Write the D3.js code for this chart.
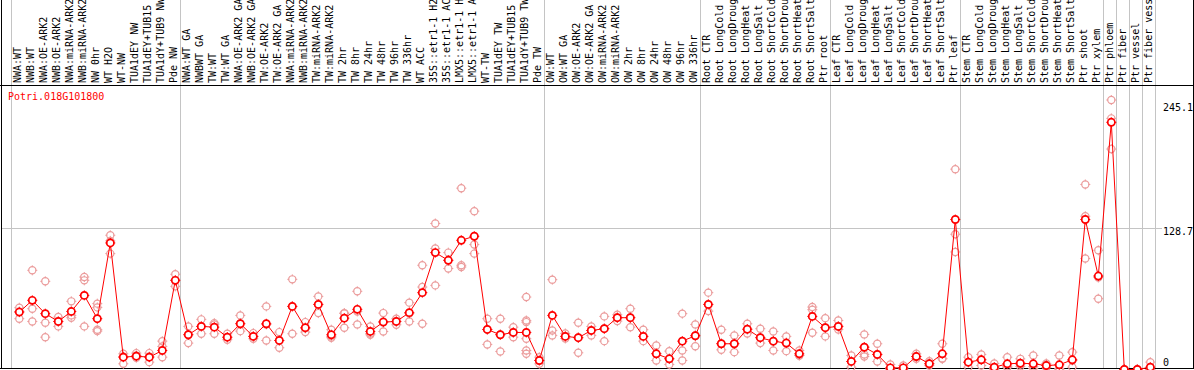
<!DOCTYPE html>
<html>
<head>
<meta charset="utf-8">
<script src="https://cdn.jsdelivr.net/npm/d3@7"></script>
<style>
  html, body { margin: 0; padding: 0; background: #fff; }
  svg { display: block; }
  text { font-family: "DejaVu Sans Mono", "Liberation Mono", monospace; font-size: 10px; }
</style>
</head>
<body>
<svg id="chart" width="1194" height="370"></svg>
<script>
const title = "Potri.018G101800";

const categories = [
  "NWA:WT","NWB:WT","NWA:OE-ARK2","NWB:OE-ARK2","NWA:miRNA-ARK2","NWB:miRNA-ARK2","NW 0hr","WT H2O","WT-NW","TUA1dEY NW","TUA1dEY+TUB15","TUA1dY+TUB9 NW","Pde NW",
  "NWA:WT GA","NWBWT GA","TW:WT","TW:WT GA","NWA:OE-ARK2 GA","NWB:OE-ARK2 GA","TW:OE-ARK2","TW:OE-ARK2 GA","NWA:miRNA-ARK2","NWB:miRNA-ARK2","TW:miRNA-ARK2","TW:miRNA-ARK2","TW 2hr","TW 8hr","TW 24hr","TW 48hr","TW 96hr","TW 336hr","WT ACC","35S::etr1-1 H2","35S::etr1-1 AC","LMX5::etr1-1 H","LMX5::etr1-1 A","WT-TW","TUA1dEY TW","TUA1dEY+TUB15","TUA1dY+TUB9 TW","Pde TW",
  "OW:WT","OW:WT GA","OW:OE-ARK2","OW:OE-ARK2 GA","OW:miRNA-ARK2","OW:miRNA-ARK2","OW 2hr","OW 8hr","OW 24hr","OW 48hr","OW 96hr","OW 336hr",
  "Root CTR","Root LongCold","Root LongDroug","Root LongHeat","Root LongSalt","Root ShortCold","Root ShortDrou","Root ShortHeat","Root ShortSalt","Ptr root",
  "Leaf CTR","Leaf LongCold","Leaf LongDroug","Leaf LongHeat","Leaf LongSalt","Leaf ShortCold","Leaf ShortDrou","Leaf ShortHeat","Leaf ShortSalt","Ptr leaf",
  "Stem CTR","Stem LongCold","Stem LongDroug","Stem LongHeat","Stem LongSalt","Stem ShortCold","Stem ShortDrou","Stem ShortHeat","Stem ShortSalt","Ptr shoot","Ptr xylem",
  "Ptr phloem","Ptr fiber","Ptr vessel","Ptr fiber vess"
];

// index where each group starts (plus the end)
const groupBounds = [0, 13, 41, 53, 63, 73, 84, 85, 86, 87, 88];

const means = [
  52.2, 62.9, 50.8, 43.7, 52.8, 67.4, 46.2, 115.1, 11.2, 12.1, 11.2, 17.3, 81.1,
  31.6, 39.2, 38.5, 29.4, 41.6, 30.1, 41.6, 26.4, 57.4, 38.0, 59.2, 31.6, 46.7, 54.7, 34.6, 43.1, 43.7, 51.7, 69.9, 106.3, 99.3, 117.5, 121.2, 36.4, 31.6, 33.7, 33.7, 8.2,
  49.2, 30.1, 28.9, 35.5, 37.1, 47.1, 47.1, 30.1, 14.3, 9.7, 25.8, 30.7,
  59.2, 23.4, 23.4, 36.7, 28.9, 25.8, 24.0, 14.3, 48.3, 38.0,
  39.2, 7.3, 20.3, 13.7, 1.5, 1.5, 11.8, 5.2, 14.3, 136.4,
  6.7, 8.8, 2.1, 5.2, 5.7, 5.2, 3.6, 4.3, 8.8, 136.4, 85.0,
  224.8, 0, 0, 2.1
];

const replicates = [
  [56.2,46.2,52.8],[90.2,55.3,43.7],[80.2,42.6,29.4],[47.7,39.2,43.7],[62.0,47.1,49.2],[84.1,81.1,39.2],[59.9,56.5,36.2,34.9],[122.1,105.4,117.0],[14.3,5.2,11.8],[14.9,10.7,12.8],[14.9,6.7,11.8],[25.8,21.0,11.2],[86.6,75.6,81.1],
  [39.2,24.0,31.9],[45.6,32.5,39.2],[42.2,32.5,41.0],[32.5,27.1,29.2],[49.2,34.9,41.9],[33.1,28.0,30.1],[57.4,26.4,41.0],[34.0,19.8,26.4],[82.0,32.5,57.4],[43.1,34.0,37.4],[66.5,51.3,59.2],[36.2,28.9,30.1],[51.3,38.0,51.0],[71.1,41.0,52.8],[39.2,31.6,32.8],[51.3,34.6,43.7],[46.2,40.7,43.7],[60.8,43.7,51.0],[94.8,75.0,41.6],[132.8,110.0,76.5],[106.3,91.8,99.3],[164.9,94.8,93.2],[144.0,113.6,105.4],[46.2,22.8,36.4],[46.2,16.4,31.9],[38.5,29.4,33.7],[65.9,44.6,43.1,28.0,17.3,14.3],[11.2,5.2,8.2],
  [81.7,35.5,31.0],[32.8,28.2,30.1],[42.6,15.2,29.2],[39.2,31.0,35.5],[48.3,25.8,37.4],[49.8,44.0,47.4],[55.3,38.5,47.4],[36.2,25.8,30.1],[21.9,8.2,14.6],[16.7,4.6,10.0],[50.8,17.3,8.2],[41.0,21.2,31.0],
  [69.9,53.1,59.2],[36.2,17.9,23.7],[31.0,15.8,23.7],[41.6,32.8,36.4],[37.1,24.0,29.2],[34.6,17.3,25.5],[30.1,16.7,24.6],[17.3,12.8,12.8],[56.8,54.4,33.4],[46.7,30.1,38.3],
  [44.6,36.4,39.2],[12.8,2.1,7.3],[31.9,13.7,11.8,20.3],[23.4,7.3,13.7],[4.6,0.9,0],[3.6,0.9,0],[14.3,9.7,11.8],[7.6,3.6,5.5],[23.4,9.7,10.0],[182.2,123.0,106.9],
  [11.2,2.1,6.4],[13.7,3.6,9.1],[5.5,0,0.9],[11.2,2.7,1.8],[9.7,4.6,2.7],[12.8,2.7,0.9],[5.5,1.8,3.6],[12.8,0.9,0],[15.8,2.1,8.2],[168.3,139.4,100.9],[108.4,83.6,64.4],
  [245.1,228.4,200.5],[0,0,0],[0,0,0],[6.7,0,0]
];

const yTickValues = [0, 128.7, 245.1];
const yTickLabels = ["0", "128.7", "245.1"];

const W = 1194, H = 370;
const svg = d3.select("#chart");

const xEdge = d3.scaleLinear().domain([0, categories.length]).range([11.3, 11.3 + 13 * categories.length]);
const xPt = i => xEdge(i + 8 / 13);
const y = d3.scaleLinear().domain([0, 245.1]).range([369.5, 100]);

svg.append("rect").attr("width", W).attr("height", H).attr("fill", "#fff");

// vertical group gridlines
svg.append("g").selectAll("line").data(groupBounds).join("line")
  .attr("x1", d => Math.round(xEdge(d)) + 0.5).attr("x2", d => Math.round(xEdge(d)) + 0.5)
  .attr("y1", 0).attr("y2", 368)
  .attr("stroke", "#c4c4c4").attr("stroke-width", 1);

// horizontal gridline at middle tick
svg.append("line")
  .attr("x1", 1).attr("x2", 1162)
  .attr("y1", Math.round(y(128.7)) + 0.5).attr("y2", Math.round(y(128.7)) + 0.5)
  .attr("stroke", "#c4c4c4").attr("stroke-width", 1);

// frame
svg.append("line").attr("x1", 0).attr("x2", W).attr("y1", 85.5).attr("y2", 85.5).attr("stroke", "#000");
svg.append("line").attr("x1", 1.5).attr("x2", 1.5).attr("y1", 0).attr("y2", 369).attr("stroke", "#000");
svg.append("line").attr("x1", 1193.5).attr("x2", 1193.5).attr("y1", 0).attr("y2", 369).attr("stroke", "#000");
svg.append("line").attr("x1", 0).attr("x2", W).attr("y1", 368.5).attr("y2", 368.5).attr("stroke", "#000");

// category labels (rotated)
svg.append("g").selectAll("text").data(categories).join("text")
  .attr("transform", (d, i) => `translate(${xPt(i) + 1.8},83) rotate(-90)`)
  .attr("text-anchor", "start")
  .attr("fill", "#000")
  .text(d => d);

// title
svg.append("text").attr("x", 8).attr("y", 100).attr("fill", "#f00").text(title);

// y tick labels on right
const tickBaseline = [366, 236, 111];
svg.append("g").selectAll("text").data(yTickValues).join("text")
  .attr("x", 1163)
  .attr("y", (d, i) => i === 0 ? y(d) - 3.5 : y(d) + 7.5 + (i === 2 ? 3 : 0))
  .attr("fill", "#000")
  .text((d, i) => yTickLabels[i]);

// marker helper: circle with four small ticks
function addMarker(g, color, sw, r, t) {
  g.append("circle").attr("r", r).attr("fill", "none").attr("stroke", color).attr("stroke-width", sw);
  g.append("path")
    .attr("d", `M0,${-r - t}V${-r + 0.5}M0,${r - 0.5}V${r + t}M${-r - t},0H${-r + 0.5}M${r - 0.5},0H${r + t}`)
    .attr("stroke", color).attr("stroke-width", 1).attr("fill", "none");
}

// replicate points
const repData = [];
replicates.forEach((arr, i) => arr.forEach(v => repData.push({ i, v })));
const plot = svg.append("g");
plot.selectAll("g.rep").data(repData).join("g").attr("class", "rep")
  .attr("transform", d => `translate(${xPt(d.i)},${y(d.v)})`)
  .each(function () { addMarker(d3.select(this), "#eb9c9c", 1.2, 3.6, 1.4); });

// mean line
plot.append("path").datum(means)
  .attr("fill", "none").attr("stroke", "#f00").attr("stroke-width", 1)
  .attr("d", d3.line().x((d, i) => xPt(i)).y(d => y(d)));

// mean points
plot.selectAll("g.mean").data(means).join("g").attr("class", "mean")
  .attr("transform", (d, i) => `translate(${xPt(i)},${y(d)})`)
  .each(function () {
    const g = d3.select(this);
    g.append("circle").attr("r", 3.6).attr("fill", "#fff");
    addMarker(g, "#f00", 1.7, 3.6, 1.4);
  });
</script>
</body>
</html>
